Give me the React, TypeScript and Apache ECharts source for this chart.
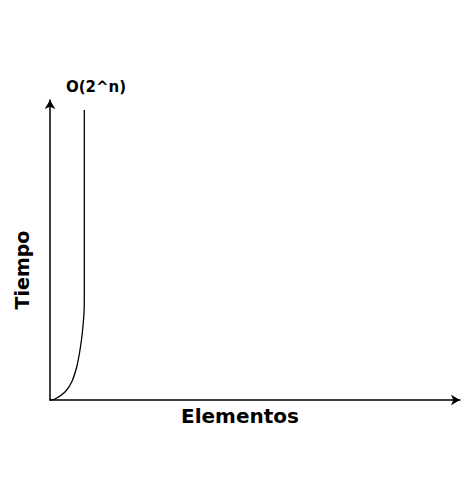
import React, { useEffect, useRef } from "react";
import * as echarts from "echarts";

// Curve points (x: elements, y: time), in axis units
const curveX = [0, 5, 15, 21.7, 26.7, 30, 32.3, 34, 34.3, 34.3, 34.3];
const curveY = [0, 1, 8, 18, 33, 50, 67, 87, 100, 160, 290];
const curveLabel = "O(2^n)";
const xTitle = "Elementos";
const yTitle = "Tiempo";

export default function App() {
  const ref = useRef<HTMLDivElement>(null);
  useEffect(() => {
    if (!ref.current) return;
    const chart = echarts.init(ref.current, null, { renderer: "svg" });
    const font = "'DejaVu Sans', sans-serif";
    chart.setOption({
      animation: false,
      backgroundColor: "#ffffff",
      grid: { left: 50, right: 10, top: 100, bottom: 101 },
      xAxis: {
        type: "value",
        min: 0,
        max: 410,
        axisLine: {
          show: true,
          onZero: false,
          symbol: ["none", "arrow"],
          symbolSize: [8, 9],
          lineStyle: { color: "#000", width: 1.5 },
        },
        axisTick: { show: false },
        axisLabel: { show: false },
        splitLine: { show: false },
      },
      yAxis: {
        type: "value",
        min: 0,
        max: 300,
        axisLine: {
          show: true,
          onZero: false,
          symbol: ["none", "arrow"],
          symbolSize: [8, 9],
          lineStyle: { color: "#000", width: 1.5 },
        },
        axisTick: { show: false },
        axisLabel: { show: false },
        splitLine: { show: false },
      },
      series: [
        {
          type: "line",
          data: curveX.map((x, i) => [x, curveY[i]]),
          smooth: 0.3,
          showSymbol: false,
          lineStyle: { color: "#000", width: 1.3 },
        },
      ],
      graphic: [
        {
          type: "text",
          left: 66,
          top: 79,
          style: { text: curveLabel, font: `bold 15px ${font}`, fill: "#000" },
        },
        {
          type: "text",
          x: 240,
          y: 416,
          style: {
            text: xTitle,
            font: `bold 20px ${font}`,
            fill: "#000",
            align: "center",
            verticalAlign: "middle",
          },
        },
        {
          type: "text",
          x: 22,
          y: 270,
          rotation: Math.PI / 2,
          style: {
            text: yTitle,
            font: `bold 19px ${font}`,
            fill: "#000",
            align: "center",
            verticalAlign: "middle",
          },
        },
      ],
    });
    return () => chart.dispose();
  }, []);
  return <div ref={ref} style={{ width: 470, height: 501, margin: -8 }} />;
}
